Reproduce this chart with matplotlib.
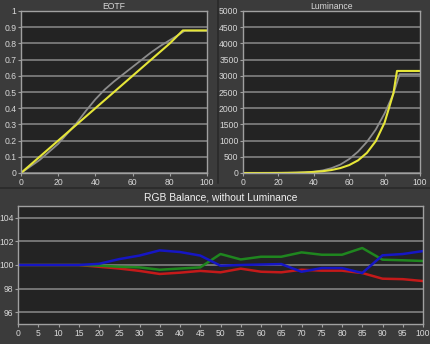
import matplotlib
matplotlib.use("Agg")
import matplotlib.pyplot as plt
from matplotlib.lines import Line2D

plt.rcParams["font.family"] = ["Liberation Sans", "DejaVu Sans"]

# EOTF panel
eotf_x_meas = [0, 5, 10, 15, 20, 25, 30, 35, 40, 45, 50, 55, 60, 65, 70, 75, 80, 85, 88, 90, 95, 100]
eotf_meas = [0, 0.04, 0.08, 0.13, 0.18, 0.245, 0.31, 0.385, 0.455, 0.515, 0.565, 0.61, 0.655,
             0.7, 0.745, 0.785, 0.82, 0.855, 0.878, 0.878, 0.878, 0.878]
eotf_x_target = [0, 10, 20, 30, 40, 50, 60, 70, 80, 87, 90, 100]
eotf_target = [0, 0.10, 0.20, 0.30, 0.40, 0.50, 0.60, 0.70, 0.80, 0.88, 0.88, 0.88]

# Luminance panel (cd/m2)
lum_x_meas = [0, 5, 10, 15, 20, 25, 30, 35, 40, 45, 50, 55, 60, 65, 70, 75, 80, 85, 88.5, 90, 95, 100]
lum_meas = [0, 0.1, 0.3, 1, 2, 5, 9, 20, 40, 80, 150, 260, 430, 660, 960, 1340, 1840, 2450,
            3050, 3050, 3050, 3050]
lum_x_target = [0, 5, 10, 15, 20, 25, 30, 35, 40, 45, 50, 55, 60, 65, 70, 75, 80, 85, 87, 90, 95, 100]
lum_target = [0, 0.2, 0.3, 1, 2.4, 5, 10, 18, 33, 55, 92, 152, 244, 390, 622, 983, 1555, 2467,
              3150, 3150, 3150, 3150]

# RGB balance panel
rgb_x = [0, 5, 10, 15, 20, 25, 30, 35, 40, 45, 50, 55, 60, 65, 70, 75, 80, 85, 90, 95, 100]
red = [100, 100, 100, 100, 99.85, 99.7, 99.5, 99.24, 99.35, 99.5, 99.38, 99.69, 99.43, 99.38,
       99.6, 99.52, 99.52, 99.32, 98.84, 98.8, 98.64]
green = [100, 100, 100, 100, 99.95, 99.85, 99.8, 99.6, 99.7, 99.8, 100.93, 100.47, 100.7, 100.7,
         101.07, 100.87, 100.87, 101.44, 100.45, 100.4, 100.34]
blue = [100, 100, 100, 100, 100.1, 100.5, 100.8, 101.24, 101.1, 100.8, 99.94, 100.0, 100.04,
        100.08, 99.43, 99.74, 99.74, 99.32, 100.82, 100.93, 101.18]

eotf_ticks = [0, 0.1, 0.2, 0.3, 0.4, 0.5, 0.6, 0.7, 0.8, 0.9, 1]
eotf_ticklabels = ["0", "0.1", "0.2", "0.3", "0.4", "0.5", "0.6", "0.7", "0.8", "0.9", "1"]
lum_ticks = [0, 500, 1000, 1500, 2000, 2500, 3000, 3500, 4000, 4500, 5000]
top_xticks = [0, 20, 40, 60, 80, 100]
rgb_xticks = list(range(0, 101, 5))
rgb_yticks = [96, 98, 100, 102, 104]

FIG_BG = "#3b3b3b"
AX_BG = "#232323"
GRID = "#8a8a8a"
SPINE = "#a0a0a0"
TXT = "#d8d8d8"

fig = plt.figure(figsize=(4.30, 3.44), dpi=100)
fig.patch.set_facecolor(FIG_BG)

# panel separators
fig.add_artist(Line2D([218 / 430, 218 / 430], [1 - 183 / 344, 1.0], transform=fig.transFigure,
                      color="#2a2a2a", lw=1.2))
fig.add_artist(Line2D([0, 1], [1 - 188 / 344, 1 - 188 / 344], transform=fig.transFigure,
                      color="#2a2a2a", lw=1.2))


def style(ax, fs=6.2):
    ax.set_facecolor(AX_BG)
    for s in ax.spines.values():
        s.set_color(SPINE)
        s.set_linewidth(1.0)
    ax.tick_params(colors=SPINE, labelcolor=TXT, labelsize=fs, length=2.5, width=0.8, pad=0.8)
    ax.yaxis.grid(True, color=GRID, lw=1.1)
    ax.xaxis.grid(False)
    ax.set_axisbelow(True)


ax1 = fig.add_axes([21 / 430, 1 - 173 / 344, 186 / 430, 162 / 344])
style(ax1)
ax1.plot(eotf_x_meas, eotf_meas, color="#8c8c8c", lw=1.3)
ax1.plot(eotf_x_target, eotf_target, color="#e6e638", lw=1.5)
ax1.set_xlim(0, 100)
ax1.set_ylim(0, 1)
ax1.set_xticks(top_xticks)
ax1.set_yticks(eotf_ticks)
ax1.set_yticklabels(eotf_ticklabels)
ax1.set_title("EOTF", color=TXT, fontsize=6.2, pad=1.5)

ax2 = fig.add_axes([243 / 430, 1 - 173 / 344, 177 / 430, 162 / 344])
style(ax2)
ax2.plot(lum_x_meas, lum_meas, color="#8c8c8c", lw=1.3)
ax2.plot(lum_x_target, lum_target, color="#e6e638", lw=1.5)
ax2.set_xlim(0, 100)
ax2.set_ylim(0, 5000)
ax2.set_xticks(top_xticks)
ax2.set_yticks(lum_ticks)
ax2.set_title("Luminance", color=TXT, fontsize=6.2, pad=1.5)

ax3 = fig.add_axes([18 / 430, 1 - 324 / 344, 405 / 430, 118 / 344])
style(ax3)
ax3.plot(rgb_x, red, color="#c41a1a", lw=1.8)
ax3.plot(rgb_x, green, color="#1f861f", lw=1.8)
ax3.plot(rgb_x, blue, color="#1616c4", lw=1.8)
ax3.set_xlim(0, 100)
ax3.set_ylim(95, 105)
ax3.set_xticks(rgb_xticks)
ax3.set_yticks(rgb_yticks)
ax3.set_title("RGB Balance, without Luminance", color="#f2f2f2", fontsize=7.4, pad=4)

fig.savefig("out.png", dpi=100, facecolor=FIG_BG)
